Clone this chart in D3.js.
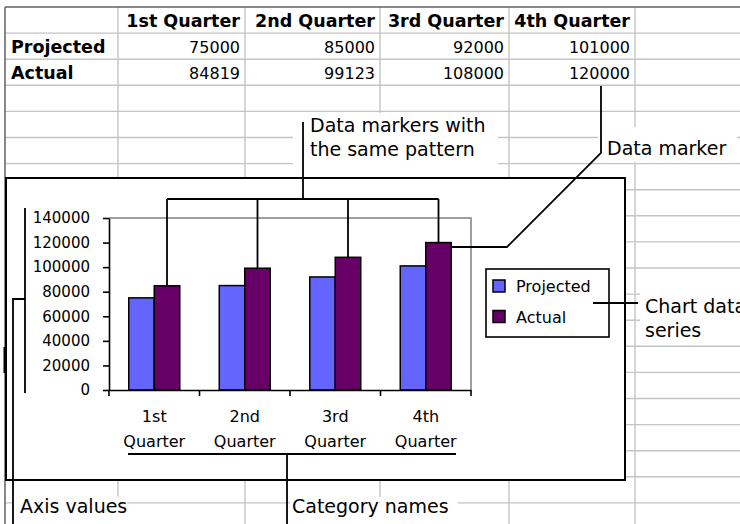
<!DOCTYPE html>
<html>
<head>
<meta charset="utf-8">
<script src="https://cdn.jsdelivr.net/npm/d3@7"></script>
<style>
  body { margin: 0; background: #fff; }
  svg { display: block; font-family: "DejaVu Sans", sans-serif; }
</style>
</head>
<body>
<svg id="chart" width="740" height="524"></svg>
<script>
const categories = ["1st Quarter", "2nd Quarter", "3rd Quarter", "4th Quarter"];
const seriesNames = ["Projected", "Actual"];
const projected = [75000, 85000, 92000, 101000];
const actual = [84819, 99123, 108000, 120000];
const yTicks = [0, 20000, 40000, 60000, 80000, 100000, 120000, 140000];
const seriesColors = ["#6464ff", "#660066"];

const svg = d3.select("#chart");

// spreadsheet grid
const colEdges = [118, 245, 380, 509, 635];
const rowH = 26.1;
const sheetTop = 7;
const sheetLeft = 5;
const grid = svg.append("g").attr("stroke", "#c4c4c4").attr("stroke-width", 1.4);
colEdges.forEach(x => {
  grid.append("line").attr("x1", x).attr("x2", x).attr("y1", sheetTop).attr("y2", 524);
});
for (let i = 1; i < 20; i++) {
  const y = sheetTop + i * rowH;
  grid.append("line").attr("x1", sheetLeft).attr("x2", 740).attr("y1", y).attr("y2", y);
}
svg.append("line").attr("x1", sheetLeft).attr("x2", 740).attr("y1", sheetTop).attr("y2", sheetTop)
  .attr("stroke", "#606060").attr("stroke-width", 1.5);
svg.append("line").attr("x1", sheetLeft).attr("x2", sheetLeft).attr("y1", sheetTop).attr("y2", 524)
  .attr("stroke", "#606060").attr("stroke-width", 1.5);
svg.append("rect").attr("x", 3.5).attr("y", 347).attr("width", 3).attr("height", 26).attr("fill", "#000");

// white label boxes over the grid
[[293, 113, 205, 65], [598, 127, 139, 35], [640, 293, 100, 52], [14, 497, 113, 27], [290, 497, 168, 27]]
  .forEach(b => {
    svg.append("rect").attr("x", b[0]).attr("y", b[1]).attr("width", b[2]).attr("height", b[3]).attr("fill", "#fff");
  });

// table cells
const table = svg.append("g");
categories.forEach((c, i) => {
  table.append("text").attr("x", colEdges[i + 1] - 5).attr("y", sheetTop + 19.5)
    .attr("text-anchor", "end").attr("font-weight", "bold").attr("font-size", 17.5).text(c);
});
[projected, actual].forEach((vals, r) => {
  const y = sheetTop + (r + 1) * rowH + 19.5;
  table.append("text").attr("x", 11).attr("y", y)
    .attr("font-weight", "bold").attr("font-size", 17.5).text(seriesNames[r]);
  vals.forEach((v, i) => {
    table.append("text").attr("x", colEdges[i + 1] - 5).attr("y", y)
      .attr("text-anchor", "end").attr("font-size", 16).text(v);
  });
});

// chart object
svg.append("rect").attr("x", 6).attr("y", 178).attr("width", 619).attr("height", 302)
  .attr("fill", "#fff").attr("stroke", "#000").attr("stroke-width", 2);

const plot = { left: 109, right: 471, top: 218, bottom: 390 };

const x = d3.scaleBand().domain(categories).range([plot.left, plot.right]);
const xs = d3.scaleBand().domain(seriesNames).range([0, x.bandwidth()]).paddingOuter(0.775);
const y = d3.scaleLinear().domain([0, 140000]).range([plot.bottom, plot.top]);

// plot area border
svg.append("path")
  .attr("d", `M${plot.left},${plot.top}H${plot.right}V${plot.bottom}`)
  .attr("fill", "none").attr("stroke", "#808080").attr("stroke-width", 1.5);

// bars
const rows = categories.map((c, i) => ({ cat: c, values: [projected[i], actual[i]] }));
const groups = svg.append("g").selectAll("g").data(rows).join("g")
  .attr("transform", d => `translate(${x(d.cat)},0)`);
groups.selectAll("rect")
  .data(d => d.values.map((v, j) => ({ name: seriesNames[j], value: v, j: j })))
  .join("rect")
  .attr("x", d => xs(d.name))
  .attr("y", d => y(d.value))
  .attr("width", xs.bandwidth())
  .attr("height", d => y(0) - y(d.value))
  .attr("fill", d => seriesColors[d.j])
  .attr("stroke", "#000")
  .attr("stroke-width", 1.5);

// y axis
const yAxis = svg.append("g")
  .attr("transform", `translate(${plot.left},0)`)
  .call(d3.axisLeft(y).tickValues(yTicks).tickFormat(d3.format("d")).tickSize(6).tickPadding(13).tickSizeOuter(0));
yAxis.selectAll("text").attr("font-family", "DejaVu Sans").attr("font-size", 15).attr("fill", "#000");
yAxis.selectAll("line, path").attr("stroke", "#000").attr("stroke-width", 1.6);

// x axis
const xAxis = svg.append("g")
  .attr("transform", `translate(0,${plot.bottom})`)
  .call(d3.axisBottom(x).tickSize(0).tickSizeOuter(0));
xAxis.select(".domain").attr("stroke", "#000").attr("stroke-width", 1.6);
xAxis.selectAll(".tick text").each(function (d) {
  const t = d3.select(this).text("").attr("y", 0).attr("dy", null)
    .attr("font-family", "DejaVu Sans").attr("font-size", 16).attr("fill", "#000");
  d.split(" ").forEach((w, k) => {
    t.append("tspan").attr("x", 0).attr("y", 32 + k * 25).text(w);
  });
});
const edges = categories.map(c => x(c)).concat([x.range()[1]]);
xAxis.selectAll(".edge").data(edges).join("line")
  .attr("class", "edge")
  .attr("x1", d => d).attr("x2", d => d).attr("y1", 0).attr("y2", 6)
  .attr("stroke", "#000").attr("stroke-width", 1.6);

// legend
const legend = svg.append("g");
legend.append("rect").attr("x", 486).attr("y", 269).attr("width", 123).attr("height", 68)
  .attr("fill", "#fff").attr("stroke", "#000").attr("stroke-width", 1.6);
seriesNames.forEach((s, j) => {
  legend.append("rect").attr("x", 493).attr("y", 280 + j * 30.5).attr("width", 12).attr("height", 12)
    .attr("fill", seriesColors[j]).attr("stroke", "#000").attr("stroke-width", 1.5);
  legend.append("text").attr("x", 516).attr("y", 292 + j * 31).attr("font-size", 16).text(s);
});

// callouts
const lines = svg.append("g").attr("stroke", "#000").attr("stroke-width", 1.8).attr("fill", "none");
const actualMid = categories.map((c, i) => x(c) + xs("Actual") + xs.bandwidth() / 2);
const bracketY = 199;
lines.append("path").attr("d", `M303,122V${bracketY}`);
lines.append("path").attr("d", `M${actualMid[0]},${bracketY}H${actualMid[3]}`);
categories.forEach((c, i) => {
  lines.append("path").attr("d", `M${actualMid[i]},${bracketY}V${y(actual[i])}`);
});
const lastRight = x(categories[3]) + xs("Actual") + xs.bandwidth();
lines.append("path").attr("d", `M601,86V153L507,247H${lastRight}`);
lines.append("path").attr("d", `M593,303H638`);
lines.append("path").attr("d", `M25,208V393M25,299H13V524`);
lines.append("path").attr("d", `M128,454H456M287,454V524`);

const notes = svg.append("g").attr("font-size", 19).attr("fill", "#000");
notes.append("text").attr("x", 310).attr("y", 132).text("Data markers with");
notes.append("text").attr("x", 310).attr("y", 156).text("the same pattern");
notes.append("text").attr("x", 607).attr("y", 155).text("Data marker");
notes.append("text").attr("x", 645).attr("y", 313).text("Chart data");
notes.append("text").attr("x", 645).attr("y", 337).text("series");
notes.append("text").attr("x", 20).attr("y", 513).text("Axis values");
notes.append("text").attr("x", 292).attr("y", 513).text("Category names");
</script>
</body>
</html>
